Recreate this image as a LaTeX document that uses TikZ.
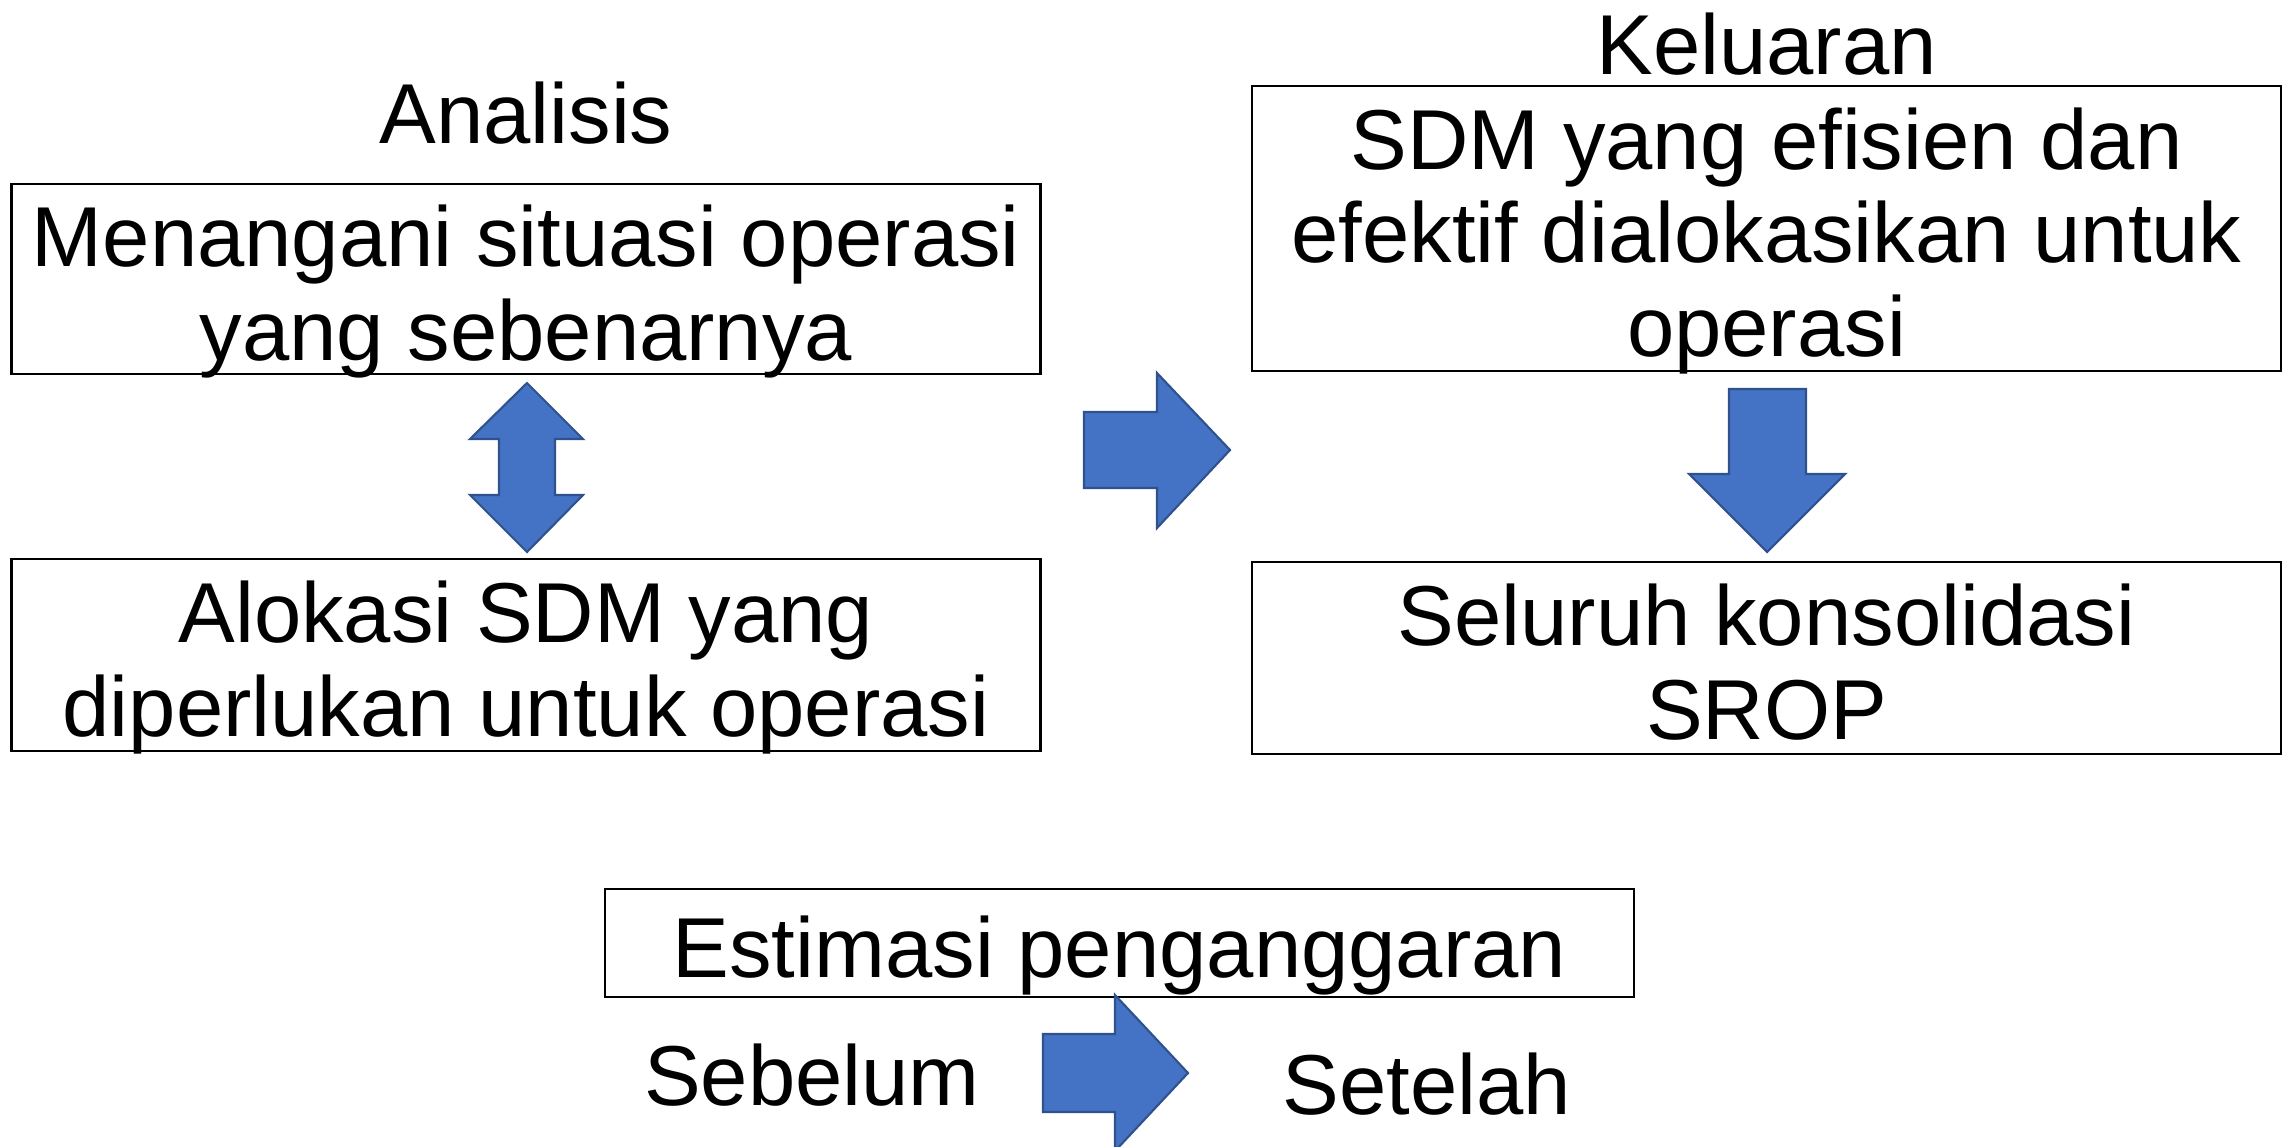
\documentclass[tikz,border=0pt]{standalone}
\usepackage{fontspec}
\setmainfont{Liberation Sans}
\usepackage{tikz}
\usetikzlibrary{positioning}
\definecolor{arrowfill}{HTML}{4472C4}
\definecolor{arrowline}{HTML}{2F528F}
% invisible line props: ascent and descent as in the slide
\newcommand\lnup{\rule{0pt}{25pt}}
\newcommand\lndown{\rule[-5.4pt]{0pt}{5.4pt}}
\tikzset{
  box/.style={draw=black, line width=0.8pt, align=center, inner xsep=0pt, inner ysep=-12pt, minimum width=10.29cm,
    font=\fontsize{24.2}{26.5}\selectfont},
  title/.style={anchor=base, inner sep=0pt, font=\fontsize{24.2}{26.5}\selectfont},
  blockarrow/.style={fill=arrowfill, draw=arrowline, line width=0.6pt, line join=miter}
}
\begin{document}
\begin{tikzpicture}
\useasboundingbox (0,0) rectangle (22.9,-11.46);
% left column
\node[title] (analisis) at (5.26,-1.43) {Analisis};
\node[box, minimum height=1.90cm] (situasi) at (5.26,-2.79) {\lnup Menangani situasi operasi\\yang sebenarnya\lndown};
\node[box, minimum height=1.92cm] (alokasi) at (5.26,-6.55) {\lnup Alokasi SDM yang\\diperlukan untuk operasi\lndown};
% right column
\node[title] (keluaran) at (17.665,-0.745) {Keluaran};
\node[box, minimum height=2.85cm] (efisien) at (17.665,-2.285) {\lnup SDM yang efisien dan\\efektif dialokasikan untuk\\operasi\lndown};
\node[box, minimum height=1.92cm] (srop) at (17.665,-6.58) {\lnup Seluruh konsolidasi\\SROP\lndown};
% bottom
\node[box, minimum height=1.08cm] (estimasi) at (11.195,-9.43) {\lnup Estimasi penganggaran\lndown};
\node[title] (sebelum) at (8.12,-11.056) {Sebelum};
\node[title] (setelah) at (14.27,-11.14) {Setelah};
% block arrows
\draw[blockarrow] (5.27,-3.83) -- (5.83,-4.39) -- (5.55,-4.39) -- (5.55,-4.95) -- (5.83,-4.95)
  -- (5.27,-5.52) -- (4.70,-4.95) -- (4.99,-4.95) -- (4.99,-4.39) -- (4.70,-4.39) -- cycle;
\draw[blockarrow] (10.84,-4.12) -- (11.57,-4.12) -- (11.57,-3.73) -- (12.30,-4.50)
  -- (11.57,-5.28) -- (11.57,-4.88) -- (10.84,-4.88) -- cycle;
\draw[blockarrow] (17.29,-3.89) -- (18.06,-3.89) -- (18.06,-4.74) -- (18.45,-4.74)
  -- (17.67,-5.52) -- (16.89,-4.74) -- (17.29,-4.74) -- cycle;
\draw[blockarrow] (10.43,-10.34) -- (11.15,-10.34) -- (11.15,-9.95) -- (11.88,-10.73)
  -- (11.15,-11.51) -- (11.15,-11.12) -- (10.43,-11.12) -- cycle;
\end{tikzpicture}
\end{document}
